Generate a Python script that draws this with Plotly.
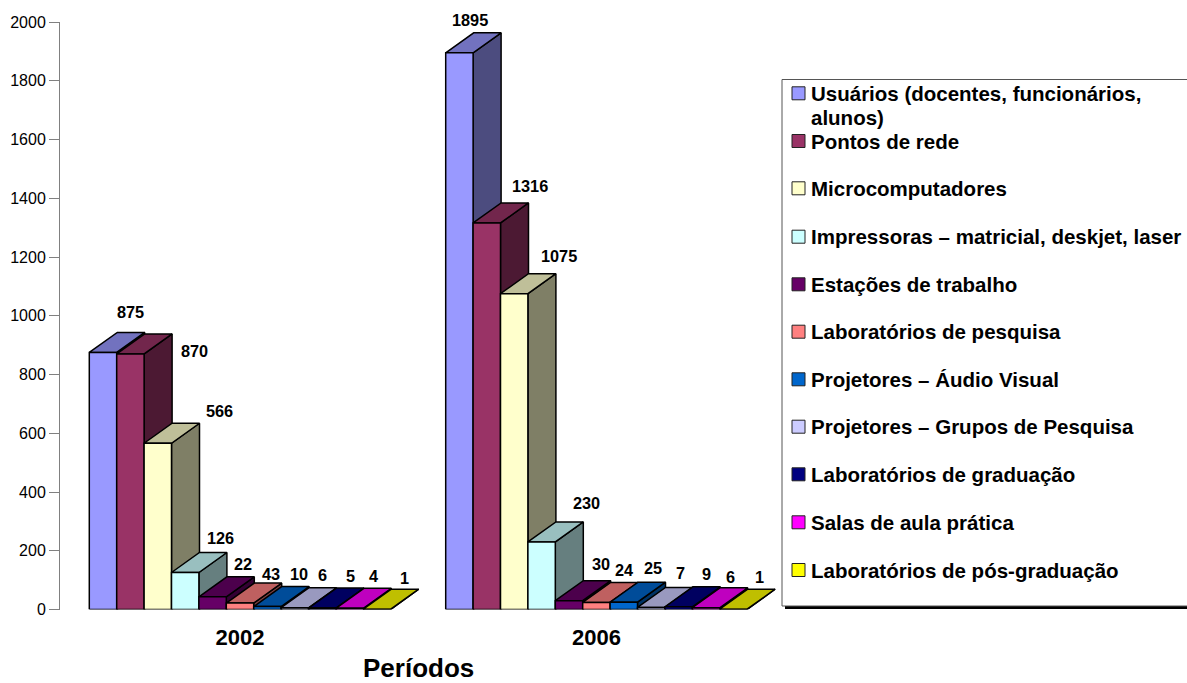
import plotly.graph_objects as go

# chart data
periods = ["2002", "2006"]
categories = [
    "Usuários (docentes, funcionários,<br>alunos)",
    "Pontos de rede",
    "Microcomputadores",
    "Impressoras – matricial, deskjet, laser",
    "Estações de trabalho",
    "Laboratórios de pesquisa",
    "Projetores – Áudio Visual",
    "Projetores – Grupos de Pesquisa",
    "Laboratórios de graduação",
    "Salas de aula prática",
    "Laboratórios de pós-graduação",
]
values_2002 = [875, 870, 566, 126, 43, 22, 10, 6, 5, 4, 1]
values_2006 = [1895, 1316, 1075, 230, 30, 24, 25, 7, 9, 6, 1]
# the labels in the original are not always in bar order
labels_2002 = ["875", "870", "566", "126", "22", "43", "10", "6", "5", "4", "1"]
labels_2006 = ["1895", "1316", "1075", "230", "30", "24", "25", "7", "9", "6", "1"]
colors = ["#9999FF", "#993366", "#FFFFCC", "#CCFFFF", "#660066", "#FF8080",
          "#0066CC", "#CCCCFF", "#000080", "#FF00FF", "#FFFF00"]

# label nudges in px (hand placed in the original): from top centre of the front face
shift_2002 = [(27, 40), (64, 3), (62, 32), (35, 34), (30, 33), (31, 29), (32, 33), (28, 33), (28, 32), (24, 32), (27, 31)]
shift_2006 = [(11, 33), (43, 37), (45, 38), (45, 39), (32, 37), (28, 32), (29, 34), (29, 34), (28, 33), (24, 31), (26, 32)]

W, H = 1187, 683
FONT = "Liberation Sans"
AX_LEFT, AX_RIGHT = 60, 780
AX_TOP, AX_BOTTOM = 22, 609.5
GROUP0, GROUP_STEP = 240, 356.4
BAR_W, DEPTH_X, DEPTH_Y = 27.4, 28, 20
LINE_H = 24.4

x_per_px = 1 / GROUP_STEP
y_per_px = 2000 / (AX_BOTTOM - AX_TOP)
bar_w = BAR_W * x_per_px
dx = DEPTH_X * x_per_px
dy = DEPTH_Y * y_per_px


def px(x):
    return x / W


def py(y):
    return 1 - y / H


def shade(color, k):
    r, g, b = [int(color[i:i + 2], 16) for i in (1, 3, 5)]
    return f"rgb({int(r * k)},{int(g * k)},{int(b * k)})"


def face(xs, ys, color, name):
    return go.Scatter(x=xs, y=ys, mode="lines", fill="toself", fillcolor=color,
                      line=dict(color="black", width=1.5), name=name,
                      showlegend=False, hoverinfo="name+y", cliponaxis=False)


fig = go.Figure()
annotations = []

for g, (values, labels, shifts) in enumerate([(values_2002, labels_2002, shift_2002),
                                              (values_2006, labels_2006, shift_2006)]):
    for i, v in enumerate(values):
        x0 = g - 5.5 * bar_w + i * bar_w
        x1 = x0 + bar_w
        name = categories[i].replace("<br>", " ")
        # side, top, then front so that the next bar hides this one's side
        fig.add_trace(face([x1, x1 + dx, x1 + dx, x1, x1], [0, dy, v + dy, v, 0],
                           shade(colors[i], 0.5), name))
        fig.add_trace(face([x0, x0 + dx, x1 + dx, x1, x0], [v, v + dy, v + dy, v, v],
                           shade(colors[i], 0.75), name))
        fig.add_trace(face([x0, x1, x1, x0, x0], [0, 0, v, v, 0], colors[i], name))
        annotations.append(dict(x=(x0 + x1) / 2, y=v, xref="x", yref="y", text=f"<b>{labels[i]}</b>",
                                showarrow=False, xshift=shifts[i][0], yshift=shifts[i][1],
                                font=dict(family=FONT, size=16.3, color="black")))

# legend box
shapes = [
    dict(type="rect", xref="paper", yref="paper", x0=px(785), x1=px(W + 20), y0=py(609), y1=py(604),
         fillcolor="black", line=dict(width=0), layer="above"),
    dict(type="rect", xref="paper", yref="paper", x0=px(782), x1=px(W + 20), y0=py(606), y1=py(79.5),
         fillcolor="white", line=dict(color="#555555", width=1), layer="above"),
]
legend_y = [93.3, 141, 188.3, 236.7, 284.3, 331.7, 379.3, 426.7, 474.3, 522.3, 570]
for name, color, y in zip(categories, colors, legend_y):
    shapes.append(dict(type="rect", xref="paper", yref="paper", x0=px(792), x1=px(805), y0=py(y + 6.5),
                       y1=py(y - 6.5), fillcolor=color, line=dict(color="#222222", width=1), layer="above"))
    # one text per line, the line gap in the original is tighter than plotly's
    for k, line in enumerate(name.split("<br>")):
        annotations.append(dict(x=px(809), y=py(y + k * LINE_H), xref="paper", yref="paper",
                                xanchor="left", yanchor="middle", text=f"<b>{line}</b>", showarrow=False,
                                font=dict(family=FONT, size=20.5, color="black")))

annotations.append(dict(x=px(418), y=py(668), xref="paper", yref="paper", xanchor="center", yanchor="middle",
                        text="<b>Períodos</b>", showarrow=False,
                        font=dict(family=FONT, size=26, color="black")))

fig.update_layout(
    width=W, height=H,
    margin=dict(l=0, r=0, t=0, b=0),
    paper_bgcolor="white", plot_bgcolor="white",
    showlegend=False,
    shapes=shapes,
    annotations=annotations,
    font=dict(family=FONT, color="black"),
    xaxis=dict(domain=[px(AX_LEFT), px(AX_RIGHT)], automargin=False,
               range=[(AX_LEFT - GROUP0) * x_per_px, (AX_RIGHT - GROUP0) * x_per_px],
               tickmode="array", tickvals=[0, 1], ticktext=[f"<b>{p}</b>" for p in periods],
               ticks="", showgrid=False, zeroline=False, showline=False,
               tickfont=dict(family=FONT, size=22, color="black"), ticklabelstandoff=12),
    yaxis=dict(domain=[py(AX_BOTTOM), py(AX_TOP)], range=[0, 2000], dtick=200, automargin=False,
               ticks="outside", ticklen=10, tickcolor="#808080", showgrid=False, zeroline=False,
               showline=True, linecolor="#808080", linewidth=1,
               tickfont=dict(family=FONT, size=16, color="black")),
)
# the page's own body margin would push the figure off the window
fig.write_html("out.html", config=dict(displayModeBar=False), post_script="document.body.style.margin='0';")
